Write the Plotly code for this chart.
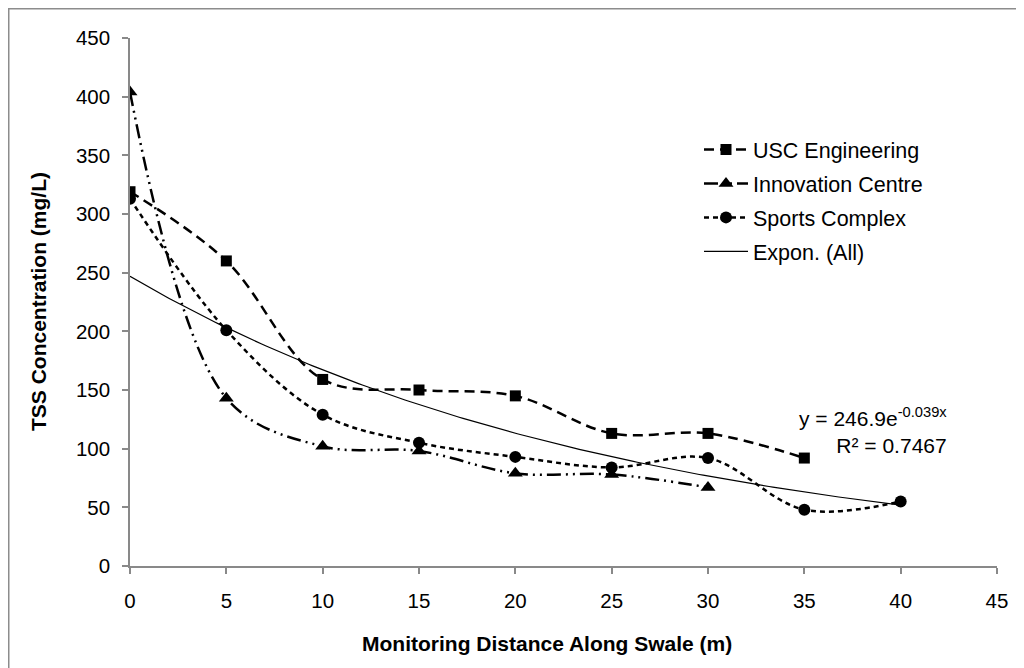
import numpy as np
import plotly.graph_objects as go

# ---- data ----
usc_x = [0, 5, 10, 15, 20, 25, 30, 35]
usc_y = [319, 260, 159, 150, 145, 113, 113, 92]

inno_x = [0, 5, 10, 15, 20, 25, 30]
inno_y = [404, 143, 102, 98, 79, 78, 67]

sports_x = [0, 5, 10, 15, 20, 25, 30, 35, 40]
sports_y = [313, 201, 129, 105, 93, 84, 92, 48, 55]

trend_a = 246.9
trend_b = -0.039
trend_x_range = [0, 40]

x_ticks = [0, 5, 10, 15, 20, 25, 30, 35, 40, 45]
y_ticks = [0, 50, 100, 150, 200, 250, 300, 350, 400, 450]

# ---- figure geometry (px, figure coordinates; page body adds an 8px offset) ----
OFF = 8
W, H = 1016, 660
L, T = 130 - OFF, 38 - OFF
R = W - (997 - OFF)
B = H - (566 - OFF)
pw, ph = W - L - R, H - T - B


def px_x(p):
    """reference screen x -> paper x"""
    return (p - OFF - L) / pw


def px_y(p):
    """reference screen y -> paper y"""
    return (H - B - (p - OFF)) / ph


FONT = "Liberation Sans, Arial, sans-serif"

trend_x = np.linspace(trend_x_range[0], trend_x_range[1], 200)
trend_y = trend_a * np.exp(trend_b * trend_x)

fig = go.Figure()

fig.add_trace(go.Scatter(
    x=usc_x, y=usc_y, name="USC Engineering", mode="lines+markers",
    line=dict(color="black", width=2.5, dash="10px,6px", shape="spline"),
    marker=dict(symbol="square", size=11, color="black"),
    legendgroup="a",
))
fig.add_trace(go.Scatter(
    x=inno_x, y=inno_y, name="Innovation Centre", mode="lines+markers",
    line=dict(color="black", width=2.5, dash="14px,5px,2px,5px,2px,5px", shape="spline"),
    marker=dict(symbol="triangle-up", size=13, color="black"),
    legendgroup="b",
))
fig.add_trace(go.Scatter(
    x=sports_x, y=sports_y, name="Sports Complex", mode="lines+markers",
    line=dict(color="black", width=2.5, dash="5px,4px", shape="spline"),
    marker=dict(symbol="circle", size=12, color="black"),
    legendgroup="c",
))
fig.add_trace(go.Scatter(
    x=trend_x, y=trend_y, name="Expon. (All)", mode="lines",
    line=dict(color="black", width=1.2),
    legendgroup="d",
))

axis_common = dict(
    showgrid=False, zeroline=False, showline=True,
    linecolor="#898989", linewidth=1.5,
    ticks="outside", ticklen=6, tickcolor="#898989", tickwidth=1.5,
    tickfont=dict(family=FONT, size=20.5, color="black"),
)

fig.update_xaxes(range=[0, 45], tickvals=x_ticks, ticklabelstandoff=10, **axis_common)
fig.update_yaxes(range=[0, 450], tickvals=y_ticks, ticklabelstandoff=8, **axis_common)

fig.update_layout(
    width=W, height=H,
    margin=dict(l=L, r=R, t=T, b=B, autoexpand=False),
    paper_bgcolor="white", plot_bgcolor="white",
    font=dict(family=FONT, size=20, color="black"),
    legend=dict(
        x=px_x(699), y=px_y(129), xanchor="left", yanchor="top",
        bgcolor="rgba(0,0,0,0)", font=dict(family=FONT, size=21.5, color="black"),
        tracegroupgap=3, itemwidth=44,
    ),
    showlegend=True,
    annotations=[
        dict(text="<b>Monitoring Distance Along Swale (m)</b>", xref="paper", yref="paper",
             x=px_x(547), y=px_y(643), xanchor="center", yanchor="middle",
             showarrow=False, font=dict(family=FONT, size=21, color="black")),
        dict(text="<b>TSS Concentration (mg/L)</b>", xref="paper", yref="paper",
             x=px_x(38), y=px_y(302), xanchor="center", yanchor="middle", textangle=-90,
             showarrow=False, font=dict(family=FONT, size=21, color="black")),
        dict(text="y = 246.9e<sup>-0.039x</sup><br>R² = 0.7467", xref="paper", yref="paper",
             x=px_x(949), y=px_y(430), xanchor="right", yanchor="middle", align="right",
             showarrow=False, font=dict(family=FONT, size=21, color="black")),
    ],
    shapes=[
        dict(type="rect", xref="paper", yref="paper",
             x0=px_x(8.5), x1=px_x(1040), y0=px_y(8.5), y1=px_y(700),
             line=dict(color="#8c8c8c", width=2), fillcolor="rgba(0,0,0,0)", layer="below"),
    ],
)

fig.write_html("out.html")
